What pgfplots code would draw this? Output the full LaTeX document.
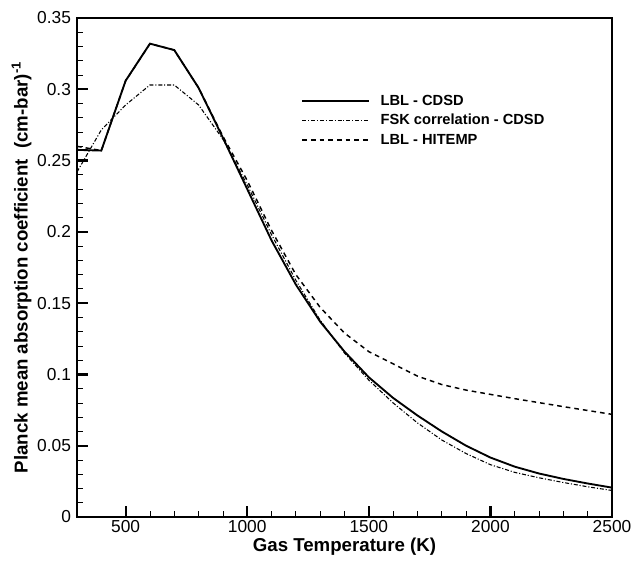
\documentclass[border=0pt]{standalone}
\usepackage{fontspec}
\setmainfont{Liberation Sans}
\usepackage{pgfplots}
\pgfplotsset{compat=1.18}

% Planck mean absorption coefficient of CO2 versus gas temperature
\pgfplotstableread{
T      lbl     fsk     hitemp
300    0.2575  0.242   0.260
400    0.257   0.2715  0.257
500    0.306   0.289   0.306
600    0.332   0.303   0.332
700    0.3275  0.303   0.3275
800    0.301   0.289   0.301
900    0.266   0.265   0.267
1000   0.230   0.233   0.236
1100   0.194   0.198   0.201
1200   0.163   0.166   0.170
1300   0.137   0.138   0.147
1400   0.116   0.115   0.129
1500   0.098   0.096   0.116
1600   0.0835  0.080   0.1074
1700   0.0712  0.066   0.0988
1800   0.0600  0.0540  0.0929
1900   0.0500  0.0445  0.0890
2000   0.0417  0.0367  0.0860
2100   0.0353  0.0313  0.0830
2200   0.0305  0.0275  0.0802
2300   0.0267  0.0242  0.0774
2400   0.0235  0.0212  0.0747
2500   0.0206  0.0186  0.0720
}\datatable

\begin{document}
\begin{tikzpicture}
\begin{axis}[
  scale only axis,
  width=401.25pt, height=374.25pt,
  xmin=300, xmax=2500, ymin=0, ymax=0.35,
  axis line style={line width=2pt},
  xtick={500,1000,1500,2000,2500},
  xticklabels={500,1000,1500,2000,2500},
  ytick={0,0.05,0.1,0.15,0.2,0.25,0.3,0.35},
  yticklabels={0,0.05,0.1,0.15,0.2,0.25,0.3,0.35},
  minor x tick num=4, minor y tick num=4,
  tick align=inside,
  xtick pos=bottom, ytick pos=left,
  major tick length=8.5pt, minor tick length=4.5pt,
  major tick style={line width=1.7pt, black},
  minor tick style={line width=0.6pt, black},
  tick label style={font=\fontsize{13}{15}\selectfont},
  xticklabel style={yshift=1pt},
  yticklabel style={xshift=-1pt},
  /pgf/number format/assume math mode=true,
  xlabel={\textbf{Gas Temperature (K)}},
  ylabel={\textbf{Planck mean absorption coefficient\ \ (cm-bar)\textsuperscript{-1}}},
  label style={font=\fontsize{14}{16}\selectfont},
  xlabel style={yshift=3pt},
  ylabel style={yshift=-2.5pt},
  legend style={draw=none, fill=none, at={(rel axis cs:0.4114,0.857)}, anchor=north west,
    font=\fontsize{11}{13}\selectfont\bfseries, row sep=1.3pt},
  legend cell align=left,
  legend image code/.code={\draw[#1] (0pt,0pt) -- (50pt,0pt); \path (56pt,0pt);},
]
\coordinate (bl) at (rel axis cs:0,0);
\coordinate (tr) at (rel axis cs:1,1);
\addplot[black, line width=1.4pt] table[x=T, y=lbl] {\datatable};
\addlegendentry{LBL - CDSD}
\addplot[black, line width=0.8pt, dash pattern=on 3pt off 1.4pt on 0.8pt off 1.4pt] table[x=T, y=fsk] {\datatable};
\addlegendentry{FSK correlation - CDSD}
\addplot[black, line width=1.1pt, dash pattern=on 3.5pt off 3pt] table[x=T, y=hitemp] {\datatable};
\addlegendentry{LBL - HITEMP}
\end{axis}
\pgfresetboundingbox
\path[use as bounding box] ([shift={(-57.75pt,-36pt)}]bl) rectangle ([shift={(18.75pt,13.5pt)}]tr);
\end{tikzpicture}
\end{document}
